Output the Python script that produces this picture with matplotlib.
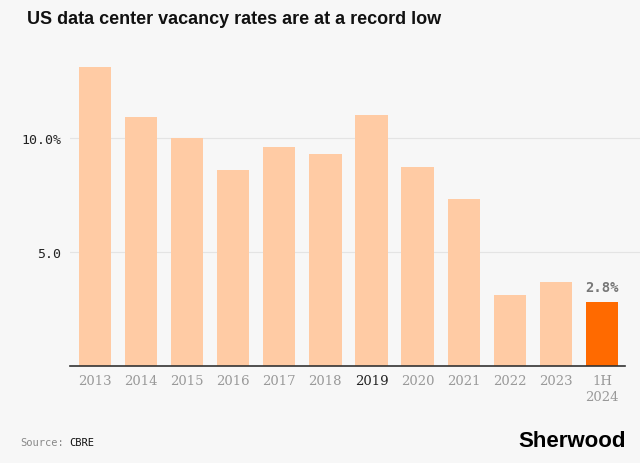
import numpy as np
import matplotlib.pyplot as plt

years = ['2013', '2014', '2015', '2016', '2017', '2018', '2019', '2020',
         '2021', '2022', '2023', '1H\n2024']
vacancy = [13.1, 10.9, 10.0, 8.6, 9.6, 9.3, 11.0, 8.7, 7.3, 3.1, 3.7, 2.8]
ytick_vals = [5.0, 10.0]
ytick_labels = ['5.0', '10.0%']

bg = '#f7f7f7'
fig = plt.figure(figsize=(6.4, 4.64), dpi=100, facecolor=bg)
ax = fig.add_axes([0.109, 0.209, 0.891, 0.664], facecolor=bg)

x = np.arange(len(years))
colors = ['#ffcba4'] * (len(years) - 1) + ['#ff6a00']
ax.bar(x, vacancy, width=0.7, color=colors, zorder=2)

ax.set_xlim(-0.54, 11.82)
ax.set_ylim(0, 13.5)
ax.set_yticks(ytick_vals)
ax.set_yticklabels(ytick_labels, family='DejaVu Sans Mono', fontsize=9.5, color='#222222')
ax.yaxis.grid(True, color='#e4e4e4', linewidth=0.8, zorder=0)
ax.tick_params(axis='both', length=0, pad=6)

ax.set_xticks(x)
ax.set_xticklabels(years, family='DejaVu Serif', fontsize=9.5, color='#999999', linespacing=1.3)
ax.get_xticklabels()[6].set_color('#222222')

for s in ['top', 'right', 'left']:
    ax.spines[s].set_visible(False)
ax.spines['bottom'].set_bounds(-0.54, 11.5)
ax.spines['bottom'].set_color('#333333')
ax.spines['bottom'].set_linewidth(1.2)

ax.text(x[-1], vacancy[-1] + 0.35, f'{vacancy[-1]}%', ha='center', va='bottom',
        family='DejaVu Sans Mono', fontsize=10, fontweight='bold', color='#777777')

narrow = ['Liberation Sans Narrow', 'Liberation Sans']
fig.text(0.042, 0.957, 'US data center vacancy rates are at a record low',
         fontsize=13, fontweight='bold', family=narrow, va='center', color='#111111')
fig.text(0.031, 0.045, 'Source:', family='DejaVu Sans Mono', fontsize=7.5, color='#888888', va='center')
fig.text(0.108, 0.045, 'CBRE', family='DejaVu Sans Mono', fontsize=7.5, color='#111111', va='center')
fig.text(0.978, 0.049, 'Sherwood', family=narrow, fontsize=16, fontweight='bold',
         ha='right', va='center', color='#000000')

fig.savefig('out.png', dpi=100, facecolor=bg)
